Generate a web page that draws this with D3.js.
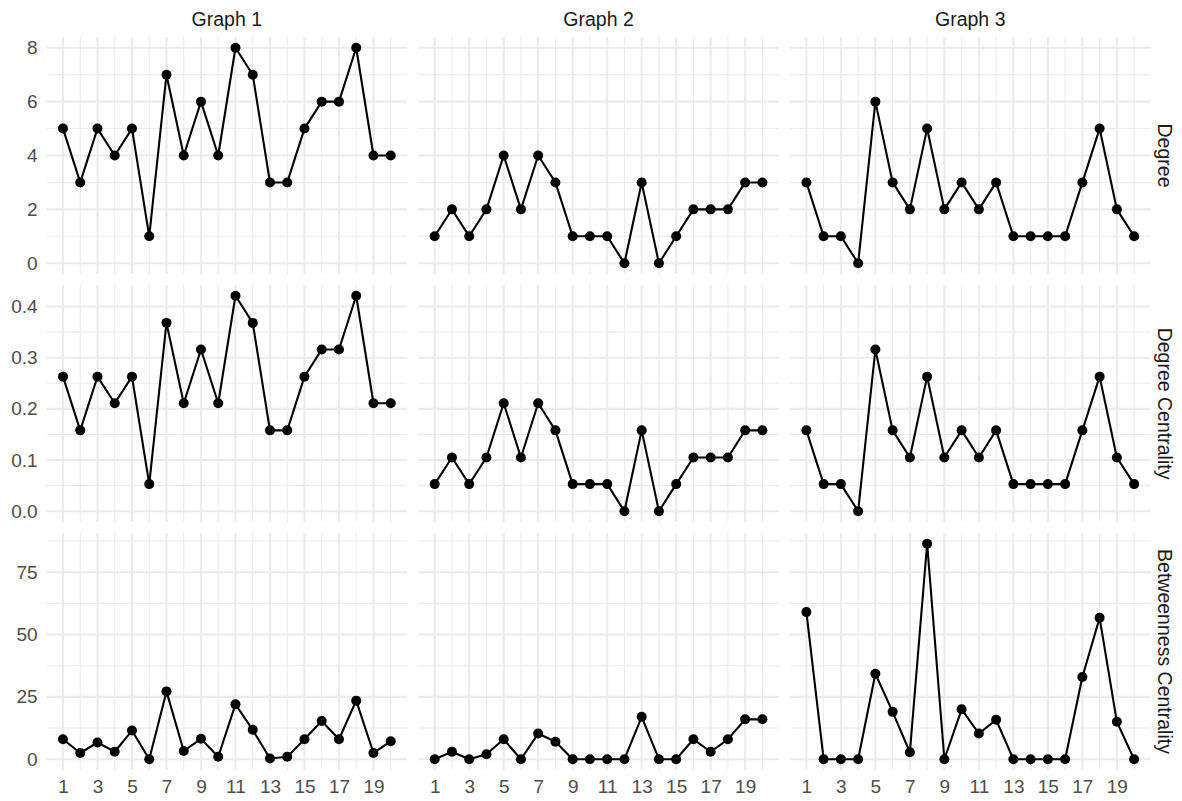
<!DOCTYPE html>
<html>
<head>
  <script src="https://cdn.jsdelivr.net/npm/d3@7"></script>
  <style>
    html, body { margin: 0; padding: 0; background: #fff; }
    svg { display: block; font-family: "Liberation Sans", Arial, sans-serif; }
  </style>
</head>
<body>
<script>
"use strict";

// x positions (node index)
const nodes = d3.range(1, 21);
const graphs = ["Graph 1", "Graph 2", "Graph 3"];
const metrics = ["Degree", "Degree Centrality", "Betweenness Centrality"];

// Degree
const degreeG1 = [5, 3, 5, 4, 5, 1, 7, 4, 6, 4, 8, 7, 3, 3, 5, 6, 6, 8, 4, 4];
const degreeG2 = [1, 2, 1, 2, 4, 2, 4, 3, 1, 1, 1, 0, 3, 0, 1, 2, 2, 2, 3, 3];
const degreeG3 = [3, 1, 1, 0, 6, 3, 2, 5, 2, 3, 2, 3, 1, 1, 1, 1, 3, 5, 2, 1];

// Degree centrality
const dcG1 = [0.263, 0.158, 0.263, 0.211, 0.263, 0.053, 0.368, 0.211, 0.316, 0.211,
              0.421, 0.368, 0.158, 0.158, 0.263, 0.316, 0.316, 0.421, 0.211, 0.211];
const dcG2 = [0.053, 0.105, 0.053, 0.105, 0.211, 0.105, 0.211, 0.158, 0.053, 0.053,
              0.053, 0, 0.158, 0, 0.053, 0.105, 0.105, 0.105, 0.158, 0.158];
const dcG3 = [0.158, 0.053, 0.053, 0, 0.316, 0.158, 0.105, 0.263, 0.105, 0.158,
              0.105, 0.158, 0.053, 0.053, 0.053, 0.053, 0.158, 0.263, 0.105, 0.053];

// Betweenness centrality
const btG1 = [8, 2.5, 6.7, 3, 11.5, 0, 27.2, 3.3, 8.2, 1, 22, 11.8, 0.3, 1, 8, 15.3, 8, 23.5, 2.5, 7.2];
const btG2 = [0, 3, 0, 2, 8, 0, 10.3, 7, 0, 0, 0, 0, 17, 0, 0, 8, 3, 8, 16, 16];
const btG3 = [59, 0, 0, 0, 34.3, 19, 2.8, 86.4, 0, 20, 10.3, 15.8, 0, 0, 0, 0, 33, 56.7, 15, 0];

// tick labels
const xTicks = [1, 3, 5, 7, 9, 11, 13, 15, 17, 19];
const yTicks = [[0, 2, 4, 6, 8], [0, 0.1, 0.2, 0.3, 0.4], [0, 25, 50, 75]];

const values = [
  [degreeG1, degreeG2, degreeG3],
  [dcG1, dcG2, dcG3],
  [btG1, btG2, btG3]
];

// layout
const WIDTH = 1182, HEIGHT = 801;
const LEFT = 46.6, TOP = 37;
const PW = 360.5, PH = 237;
const GAP_X = 11.2, GAP_Y = 11;
const GRID = "#EBEBEB";
const FONT = 19;
const STRIP_FONT = 19.5;

const svg = d3.select("body").append("svg")
  .attr("width", WIDTH)
  .attr("height", HEIGHT);

const x = d3.scaleLinear()
  .domain([1 - 0.95, 20 + 0.95])
  .range([0, PW]);
const xMinor = d3.range(2, 21, 2);

metrics.forEach((metric, r) => {
  const all = d3.merge(values[r]);
  const lo = d3.min(all), hi = d3.max(all);
  const pad = (hi - lo) * 0.05;
  const y = d3.scaleLinear().domain([lo - pad, hi + pad]).range([PH, 0]);
  const maj = yTicks[r];
  const step = maj[1] - maj[0];
  const minor = d3.range(maj[0] - step / 2, hi + pad + step, step)
    .filter(v => v >= lo - pad && v <= hi + pad);

  const py = TOP + r * (PH + GAP_Y);

  graphs.forEach((g, c) => {
    const px = LEFT + c * (PW + GAP_X);
    const panel = svg.append("g").attr("transform", `translate(${px},${py})`);

    // minor grid
    panel.selectAll("line.ymin").data(minor).join("line")
      .attr("x1", 0).attr("x2", PW)
      .attr("y1", d => y(d)).attr("y2", d => y(d))
      .attr("stroke", GRID).attr("stroke-width", 1.05);
    panel.selectAll("line.xmin").data(xMinor).join("line")
      .attr("y1", 0).attr("y2", PH)
      .attr("x1", d => x(d)).attr("x2", d => x(d))
      .attr("stroke", GRID).attr("stroke-width", 1.05);

    // major grid
    panel.append("g").selectAll("line").data(maj).join("line")
      .attr("x1", 0).attr("x2", PW)
      .attr("y1", d => y(d)).attr("y2", d => y(d))
      .attr("stroke", GRID).attr("stroke-width", 2.1);
    panel.append("g").selectAll("line").data(xTicks).join("line")
      .attr("y1", 0).attr("y2", PH)
      .attr("x1", d => x(d)).attr("x2", d => x(d))
      .attr("stroke", GRID).attr("stroke-width", 2.1);

    const pts = nodes.map((n, i) => [n, values[r][c][i]]);

    panel.append("path")
      .datum(pts)
      .attr("fill", "none")
      .attr("stroke", "#000")
      .attr("stroke-width", 2.1)
      .attr("stroke-linejoin", "round")
      .attr("d", d3.line().x(d => x(d[0])).y(d => y(d[1])));

    panel.append("g").selectAll("circle").data(pts).join("circle")
      .attr("cx", d => x(d[0]))
      .attr("cy", d => y(d[1]))
      .attr("r", 5)
      .attr("fill", "#000");

    // y axis labels on first column
    if (c === 0) {
      const ax = panel.append("g")
        .attr("transform", "translate(-9,0)")
        .call(d3.axisLeft(y).tickValues(maj).tickSize(0).tickPadding(0)
          .tickFormat(r === 1 ? d3.format(".1f") : d3.format("d")));
      ax.select(".domain").remove();
      ax.selectAll("text").attr("fill", "#4D4D4D").style("font-size", FONT + "px")
        .style("font-family", "'Liberation Sans', Arial, sans-serif");
    }

    // x axis labels on bottom row
    if (r === metrics.length - 1) {
      const ax = panel.append("g")
        .attr("transform", `translate(0,${PH + 7})`)
        .call(d3.axisBottom(x).tickValues(xTicks).tickSize(0).tickPadding(2).tickFormat(d3.format("d")));
      ax.select(".domain").remove();
      ax.selectAll("text").attr("fill", "#4D4D4D").style("font-size", FONT + "px")
        .style("font-family", "'Liberation Sans', Arial, sans-serif");
    }

    // top strips
    if (r === 0) {
      svg.append("text")
        .attr("x", px + PW / 2)
        .attr("y", TOP - 18)
        .attr("text-anchor", "middle")
        .attr("dominant-baseline", "central")
        .attr("fill", "#1A1A1A")
        .style("font-size", STRIP_FONT + "px")
        .text(g);
    }
  });

  // right strips
  const sx = LEFT + 3 * PW + 2 * GAP_X + 14;
  svg.append("text")
    .attr("transform", `translate(${sx},${py + PH / 2}) rotate(90)`)
    .attr("text-anchor", "middle")
    .attr("dominant-baseline", "central")
    .attr("fill", "#1A1A1A")
    .style("font-size", STRIP_FONT + "px")
    .text(metric);
});
</script>
</body>
</html>
